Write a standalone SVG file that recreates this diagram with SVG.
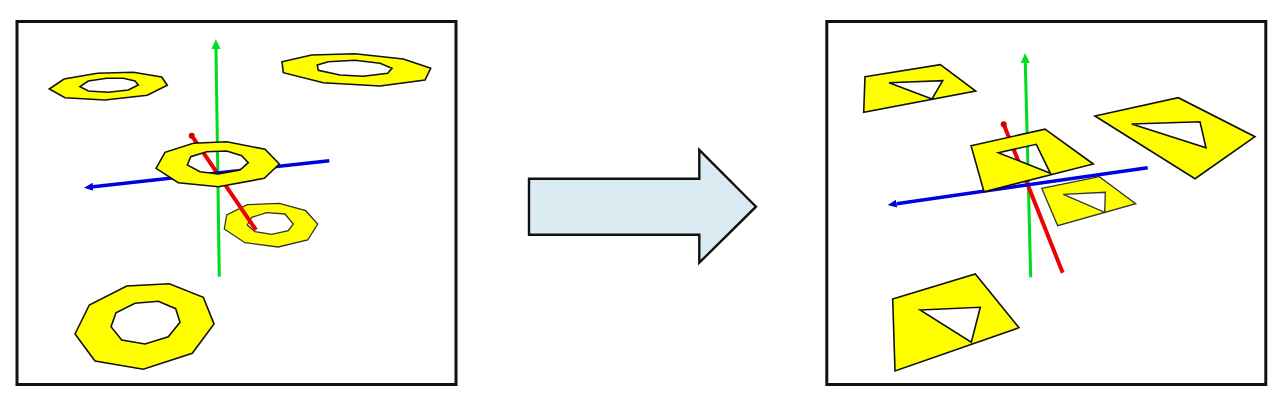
<svg xmlns="http://www.w3.org/2000/svg" width="1284" height="408" viewBox="0 0 1284 408">
<style>
.frame{fill:#fff;stroke:#111;stroke-width:3}
.shape{fill:#ffff00;stroke:#111;stroke-width:1.6;fill-rule:evenodd;stroke-linejoin:miter}
.thin{stroke:#333;stroke-width:1.3}
.big{fill:#daebf2;stroke:#111;stroke-width:2.4;stroke-linejoin:miter}
.axis{fill:none;stroke-linecap:butt}
.g{stroke:#00dc1e;stroke-width:3}
.r{stroke:#f00000;stroke-width:4}
.b{stroke:#0000e0;stroke-width:3.4}
</style>
<defs>
<marker id="headG" markerUnits="userSpaceOnUse" markerWidth="12" markerHeight="10" refX="0" refY="5" orient="auto"><path d="M0 0.5 L10 5 L0 9.5 Z" fill="#00dc1e"/></marker>
<marker id="headB" markerUnits="userSpaceOnUse" markerWidth="12" markerHeight="10" refX="0" refY="5" orient="auto"><path d="M0 1 L9 5 L0 9 Z" fill="#0000e0"/></marker>
<marker id="dotR" markerUnits="userSpaceOnUse" markerWidth="8" markerHeight="8" refX="4" refY="4"><circle cx="4" cy="4" r="3" fill="#d00000"/></marker>
</defs>
<rect width="1284" height="408" fill="#fff"/>
<rect id="frame-left" class="frame" x="17" y="21.5" width="439" height="363"/>
<rect id="frame-right" class="frame" x="826.8" y="21.5" width="439" height="363"/>
<g id="ring-top-left"><path class="shape" d="M49.3 89L64 79L97.3 73.3L133.3 72.3L161.7 77L167.3 85.3L147.3 95.3L105 100L65 97.7ZM80 86.7L88.3 81L106.7 78.3L123.3 78.3L135 81L138.3 85L128.3 90L108.3 92.3L88.3 91Z"/></g>
<g id="ring-top-right"><path class="shape" d="M282 61.7L311.7 55L355 53.7L403.3 59L430.7 68.3L425 80L380 86L323.3 82.7L283.3 72.7ZM317.3 65L328.3 61.7L355 60.3L380 63.3L392 68.3L387.7 73.3L363.3 76.3L340 75L318.3 70.3Z"/></g>
<g id="ring-small"><path class="shape thin" d="M224.3 229L226.7 215L247.3 204.7L279.3 203.3L305.7 210.7L317.7 224L307.7 240L278.3 247L245 242.7ZM247.3 225L251.7 217.3L266.7 212.7L285 214L293.3 224L288.3 230.7L271.7 234.3L255 231.7Z"/></g>
<g id="ring-bottom"><path class="shape" d="M75 334L89.3 305L126.7 286L169.3 283.7L203.3 297.3L214 324L192.3 353.3L143.3 369.3L95 361ZM111 326.7L116 312.7L135 303.3L158.3 301.3L175.7 308.7L180 322.3L168.3 336.7L145 344L121.7 340Z"/></g>
<g id="axes-left">
<line class="axis g" x1="219.3" y1="276.7" x2="216" y2="49" marker-end="url(#headG)"/>
<line class="axis r" x1="256" y1="230" x2="191.7" y2="135.7" marker-end="url(#dotR)"/>
<line class="axis b" x1="329.3" y1="160.7" x2="93" y2="186.7" marker-end="url(#headB)"/>
</g>
<g id="ring-center"><path class="shape" d="M156 168.3L165 152.3L193.3 143.3L226.7 141.7L265 149.3L279.3 164L264.3 178.3L218.3 186.7L178.3 182.7ZM187.3 165L190.7 156.7L206.7 151.7L226.7 151L241.7 155.7L248.3 162.7L240 170L218.3 174L200 171.7Z"/></g>
<g id="arrow"><path class="big" d="M529 178.7H699.3V150L756 206.7L699.3 262.7V234.7H529Z"/></g>
<g id="quad-top-left"><path class="shape" d="M865 76.7L940.3 64.7L975.7 91L863.7 112.3ZM889 82.7L942.7 80.7L932 99Z"/></g>
<g id="quad-right"><path class="shape" d="M1095 116L1178.3 97.7L1255 136.7L1195 178.7ZM1131.7 124L1200 121.7L1206 147.7Z"/></g>
<g id="quad-small"><path class="shape thin" d="M1041.7 188.3L1099.3 176.7L1135.7 203.7L1057.7 225.7ZM1063.3 194.3L1105.3 192.3L1104.7 212.3Z"/></g>
<g id="quad-bottom"><path class="shape" d="M892.7 299L975.3 274L1019 327.7L895 371ZM920 310L980.3 307.3L971.3 342.3Z"/></g>
<g id="axes-right">
<line class="axis g" x1="1030.7" y1="277.3" x2="1025.3" y2="63" marker-end="url(#headG)"/>
<line class="axis r" x1="1062.7" y1="272.7" x2="1003.7" y2="124.3" marker-end="url(#dotR)"/>
<line class="axis b" x1="1147.7" y1="167.7" x2="896.6" y2="203.7" marker-end="url(#headB)"/>
</g>
<g id="quad-center"><path class="shape" d="M971 145.7L1045 129.2L1093.3 164L984 191.7ZM998.3 152.7L1036.3 144.3L1050.4 173.3Z"/></g>
</svg>
